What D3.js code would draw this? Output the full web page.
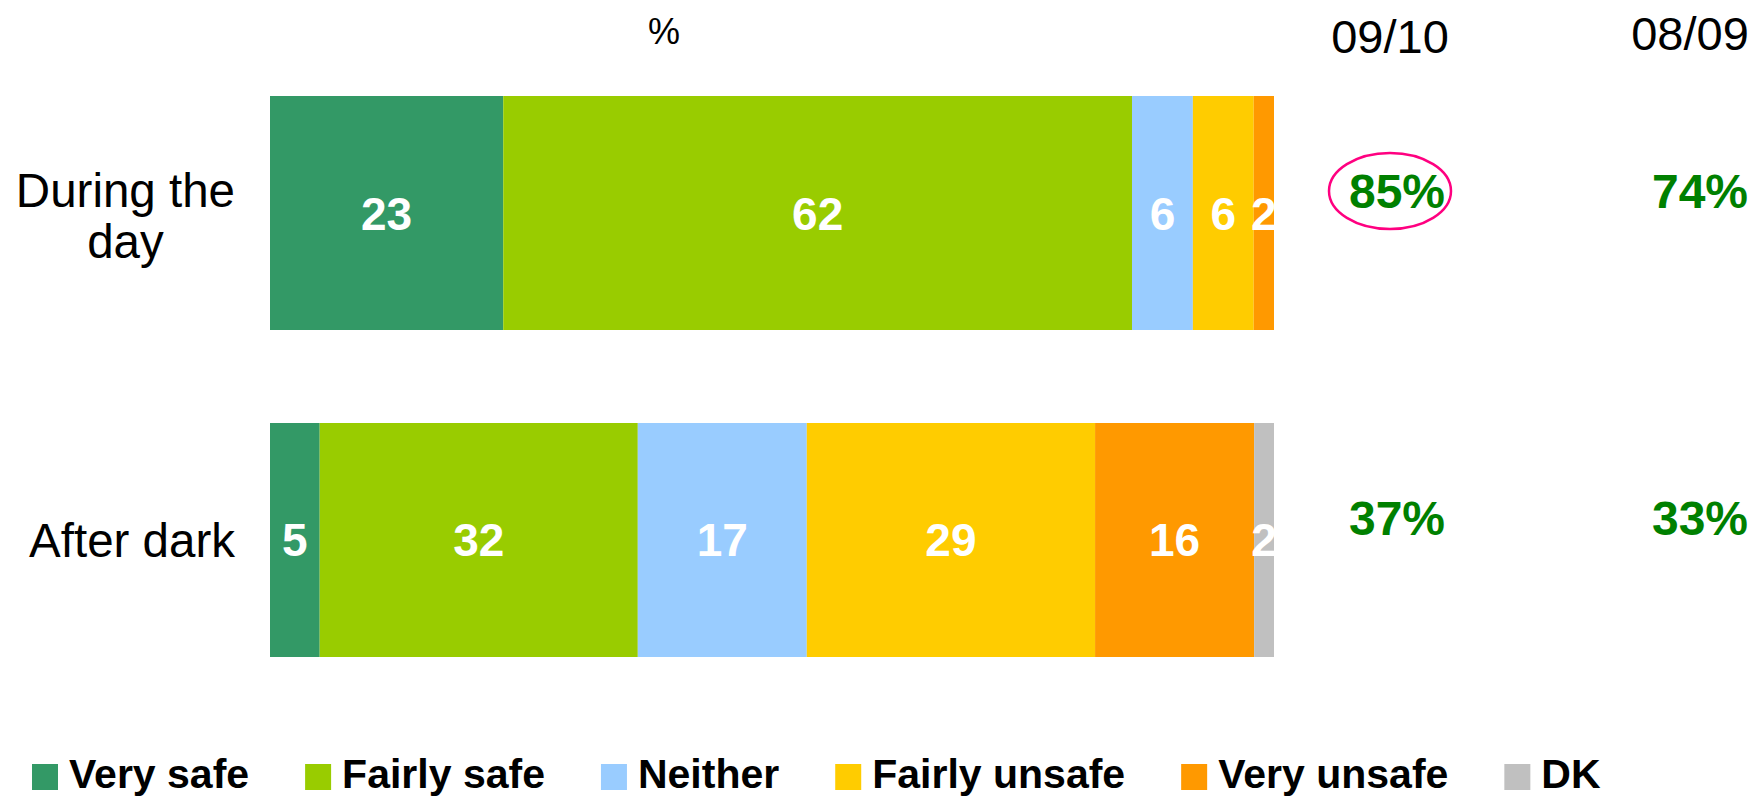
<!DOCTYPE html>
<html>
<head>
<meta charset="utf-8">
<script src="https://cdn.jsdelivr.net/npm/d3@7"></script>
<style>
  html, body { margin: 0; padding: 0; background: #fff; }
  svg { display: block; font-family: "Liberation Sans", Arial, sans-serif; }
</style>
</head>
<body>
<svg id="chart" width="1755" height="797"></svg>
<script>
// ---- data ----
const categories = ["During the day", "After dark"];
const seriesNames = ["Very safe", "Fairly safe", "Neither", "Fairly unsafe", "Very unsafe", "DK"];
const verySafe = [23, 5];
const fairlySafe = [62, 32];
const neither = [6, 17];
const fairlyUnsafe = [6, 29];
const veryUnsafe = [2, 16];
const dontKnow = [0, 2];
const unitLabel = "%";
const yearLabels = ["09/10", "08/09"];
const safe0910 = [85, 37];
const safe0809 = [74, 33];

// ---- styles ----
const colors = ["#339966", "#99CC00", "#99CCFF", "#FFCC00", "#FF9900", "#C0C0C0"];
const FONT = '"Liberation Sans", Arial, sans-serif';

const seriesValues = [verySafe, fairlySafe, neither, fairlyUnsafe, veryUnsafe, dontKnow];
const rows = categories.map((c, i) => {
  const r = { category: c };
  seriesNames.forEach((s, j) => r[s] = seriesValues[j][i]);
  return r;
});

const svg = d3.select("#chart");

const x = d3.scaleLinear().domain([0, 1]).range([270, 1274]);
const y = d3.scaleBand().domain(categories).range([96, 657]).paddingInner(0.2844).paddingOuter(0);
const color = d3.scaleOrdinal().domain(seriesNames).range(colors);

const stack = d3.stack().keys(seriesNames).offset(d3.stackOffsetExpand);
const stacked = stack(rows);

// clip for labels at plot right edge
svg.append("defs").append("clipPath").attr("id", "plotClip")
  .append("rect").attr("x", x(0)).attr("y", 0).attr("width", x(1) - x(0)).attr("height", 797);

// bars
const layers = svg.append("g").selectAll("g").data(stacked).join("g")
  .attr("fill", d => color(d.key));
layers.selectAll("rect").data(d => d.map(p => ({ p, key: d.key }))).join("rect")
  .attr("x", d => x(d.p[0]))
  .attr("y", d => y(d.p.data.category))
  .attr("width", d => Math.max(0, x(d.p[1]) - x(d.p[0])))
  .attr("height", y.bandwidth());

// segment labels
const labelG = svg.append("g").attr("clip-path", "url(#plotClip)");
stacked.forEach(layer => {
  layer.forEach(p => {
    const v = p.data[layer.key];
    if (!v) return;
    labelG.append("text")
      .attr("x", (x(p[0]) + x(p[1])) / 2)
      .attr("y", y(p.data.category) + y.bandwidth() / 2 + 16.5)
      .attr("text-anchor", "middle")
      .attr("font-family", FONT)
      .attr("font-weight", "bold")
      .attr("font-size", 46)
      .attr("fill", "#fff")
      .text(v);
  });
});

// category labels (centered lines, block right-aligned)
const catG = svg.append("g");
categories.forEach(c => {
  const lines = c === "During the day" ? ["During the", "day"] : [c];
  const t = catG.append("text")
    .attr("font-family", FONT).attr("font-size", 47.5).attr("fill", "#000")
    .attr("text-anchor", "middle");
  const cy = y(c) + y.bandwidth() / 2;
  const lh = 51.5;
  lines.forEach((ln, i) => {
    t.append("tspan")
      .attr("y", cy + 17 + (i - (lines.length - 1) / 2) * lh + (lines.length > 1 ? 2.5 : 0))
      .text(ln);
  });
  let maxW = 0;
  t.selectAll("tspan").each(function() { maxW = Math.max(maxW, this.getComputedTextLength()); });
  t.selectAll("tspan").attr("x", 235 - maxW / 2);
});

// unit label
svg.append("text")
  .attr("x", 664).attr("y", 44)
  .attr("text-anchor", "middle")
  .attr("font-family", FONT).attr("font-size", 36).attr("fill", "#000")
  .text(unitLabel);

// year headers and summary columns
const headerX = [1390, 1690];
const headerY = [53, 50];
const colX = [1397, 1700];
yearLabels.forEach((yl, i) => {
  svg.append("text")
    .attr("x", headerX[i]).attr("y", headerY[i])
    .attr("text-anchor", "middle")
    .attr("font-family", FONT).attr("font-size", 47).attr("fill", "#000")
    .text(yl);
});
[safe0910, safe0809].forEach((col, ci) => {
  col.forEach((v, ri) => {
    svg.append("text")
      .attr("x", colX[ci])
      .attr("y", y(categories[ri]) + y.bandwidth() / 2 - 5)
      .attr("text-anchor", "middle")
      .attr("font-family", FONT).attr("font-weight", "bold").attr("font-size", 48)
      .attr("fill", "#008000")
      .text(v + "%");
  });
});

// highlight ellipse around 09/10 day value
svg.append("ellipse")
  .attr("cx", colX[0] - 7)
  .attr("cy", y(categories[0]) + y.bandwidth() / 2 - 22)
  .attr("rx", 61).attr("ry", 38)
  .attr("fill", "none").attr("stroke", "#FF0080").attr("stroke-width", 2.5);

// legend
const legG = svg.append("g");
let lx = 32;
seriesNames.forEach((s, i) => {
  legG.append("rect")
    .attr("x", lx).attr("y", 764).attr("width", 26).attr("height", 26)
    .attr("fill", color(s));
  const t = legG.append("text")
    .attr("x", lx + 37).attr("y", 787.5)
    .attr("font-family", FONT).attr("font-weight", "bold").attr("font-size", 41)
    .attr("fill", "#000")
    .text(s);
  lx = lx + 37 + t.node().getComputedTextLength() + 56;
});
</script>
</body>
</html>
